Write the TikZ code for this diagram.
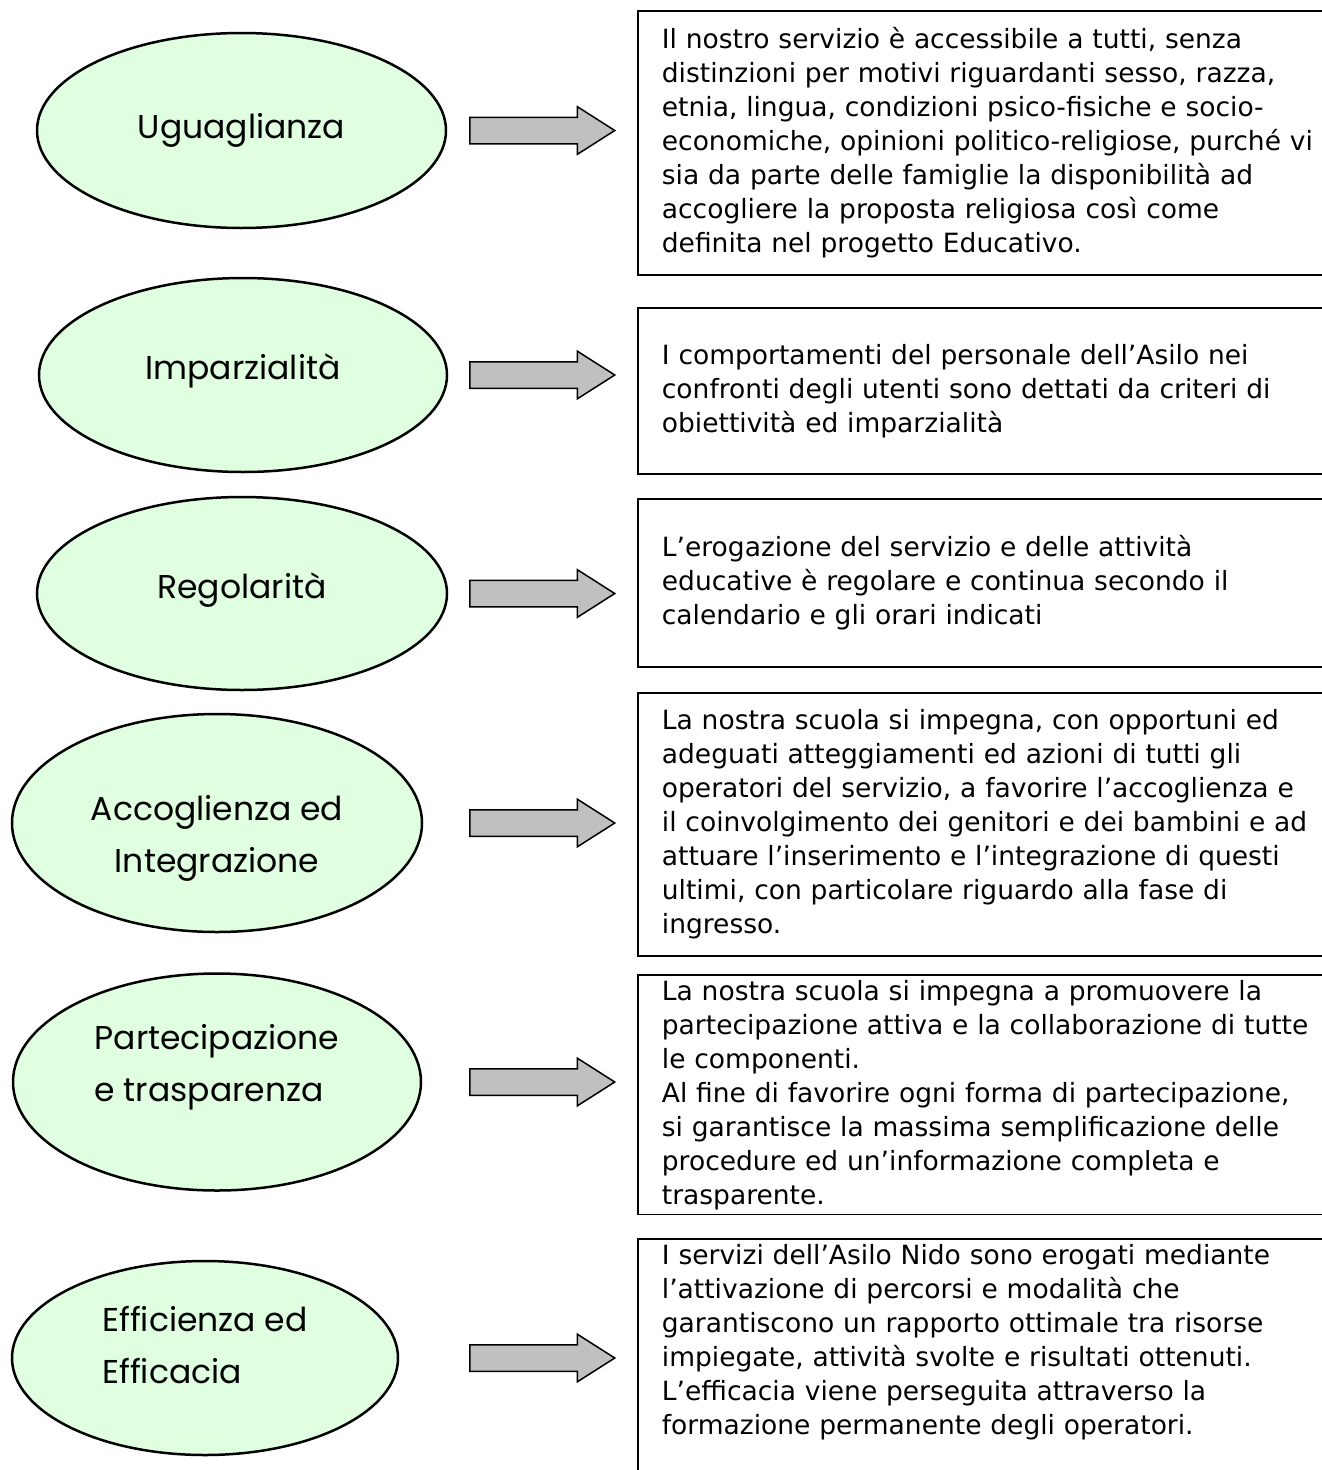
\documentclass[tikz,border=0pt]{standalone}
\usepackage{fontspec}
\setmainfont{DejaVu Sans}
\newfontfamily\principlefont{Poppins}
\usetikzlibrary{shapes,arrows,positioning,calc}
\definecolor{mint}{RGB}{224,255,224}
\definecolor{arrowgray}{RGB}{192,192,192}
\tikzstyle{principle} = [ellipse, draw, line width=2.5pt, fill=mint, inner sep=0pt, align=center, text height=0pt, text depth=0pt, font=\principlefont\fontsize{33}{52}\selectfont]
\tikzstyle{descr} = [rectangle, draw, line width=1.8pt, anchor=north west, inner xsep=24pt, inner ysep=5pt, text width=680pt, align=left, font=\fontsize{26.5}{34}\selectfont]
\tikzstyle{bigarrow} = [single arrow, draw, line width=1.5pt, fill=arrowgray, anchor=tail, inner sep=12.5pt, minimum height=145pt, minimum width=46pt, single arrow head extend=10.5pt, single arrow tip angle=65]

\begin{document}
\begin{tikzpicture}[x=1pt, y=-1pt]
    \useasboundingbox (0,0) rectangle (1322,1470);

    % principi
    \node[principle, minimum width=409pt, minimum height=195pt, text height=16pt] (ugu) at (241.5,130.5) {Uguaglianza};
    \node[principle, minimum width=408pt, minimum height=194pt, text height=9pt] (imp) at (243,375) {Imparzialità};
    \node[principle, minimum width=410pt, minimum height=193pt, text height=10pt] (reg) at (242,593.5) {Regolarità};
    \node[principle, minimum width=410pt, minimum height=218pt, text height=99pt] (acc) at (217,823) {Accoglienza ed\\Integrazione};
    \node[principle, minimum width=408pt, minimum height=217pt, text height=39pt, align=left] (par) at (217,1082) {Partecipazione\\e trasparenza};
    \node[principle, minimum width=386pt, minimum height=194pt, text height=51pt, align=left] (eff) at (205,1358) {Efficienza ed\\Efficacia};

    % descrizioni
    \node[descr, minimum height=264pt] (d1) at (637,10) {Il nostro servizio è accessibile a tutti, senza\\distinzioni per motivi riguardanti sesso, razza,\\etnia, lingua, condizioni psico-fisiche e socio-\\economiche, opinioni politico-religiose, purché vi\\sia da parte delle famiglie la disponibilità ad\\accogliere la proposta religiosa così come\\definita nel progetto Educativo.};
    \node[descr, minimum height=166pt] (d2) at (637,307) {I comportamenti del personale dell’Asilo nei\\confronti degli utenti sono dettati da criteri di\\obiettività ed imparzialità};
    \node[descr, minimum height=168pt] (d3) at (637,498) {L’erogazione del servizio e delle attività\\educative è regolare e continua secondo il\\calendario e gli orari indicati};
    \node[descr, minimum height=263pt] (d4) at (637,692) {La nostra scuola si impegna, con opportuni ed\\adeguati atteggiamenti ed azioni di tutti gli\\operatori del servizio, a favorire l’accoglienza e\\il coinvolgimento dei genitori e dei bambini e ad\\attuare l’inserimento e l’integrazione di questi\\ultimi, con particolare riguardo alla fase di\\ingresso.};
    \node[descr, minimum height=239pt] (d5) at (637,974) {La nostra scuola si impegna a promuovere la\\partecipazione attiva e la collaborazione di tutte\\le componenti.\\Al fine di favorire ogni forma di partecipazione,\\si garantisce la massima semplificazione delle\\procedure ed un’informazione completa e\\trasparente.};
    \node[descr, text depth=250pt] (d6) at (637,1238) {I servizi dell’Asilo Nido sono erogati mediante\\l’attivazione di percorsi e modalità che\\garantiscono un rapporto ottimale tra risorse\\impiegate, attività svolte e risultati ottenuti.\\L’efficacia viene perseguita attraverso la\\formazione permanente degli operatori.};

    % frecce
    \coordinate (ax) at (469,0);
    \node[bigarrow] (a1) at (ax |- ugu) {};
    \node[bigarrow] (a2) at (ax |- imp) {};
    \node[bigarrow] (a3) at (ax |- reg) {};
    \node[bigarrow] (a4) at (ax |- acc) {};
    \node[bigarrow] (a5) at (ax |- par) {};
    \node[bigarrow] (a6) at (ax |- eff) {};
\end{tikzpicture}
\end{document}
